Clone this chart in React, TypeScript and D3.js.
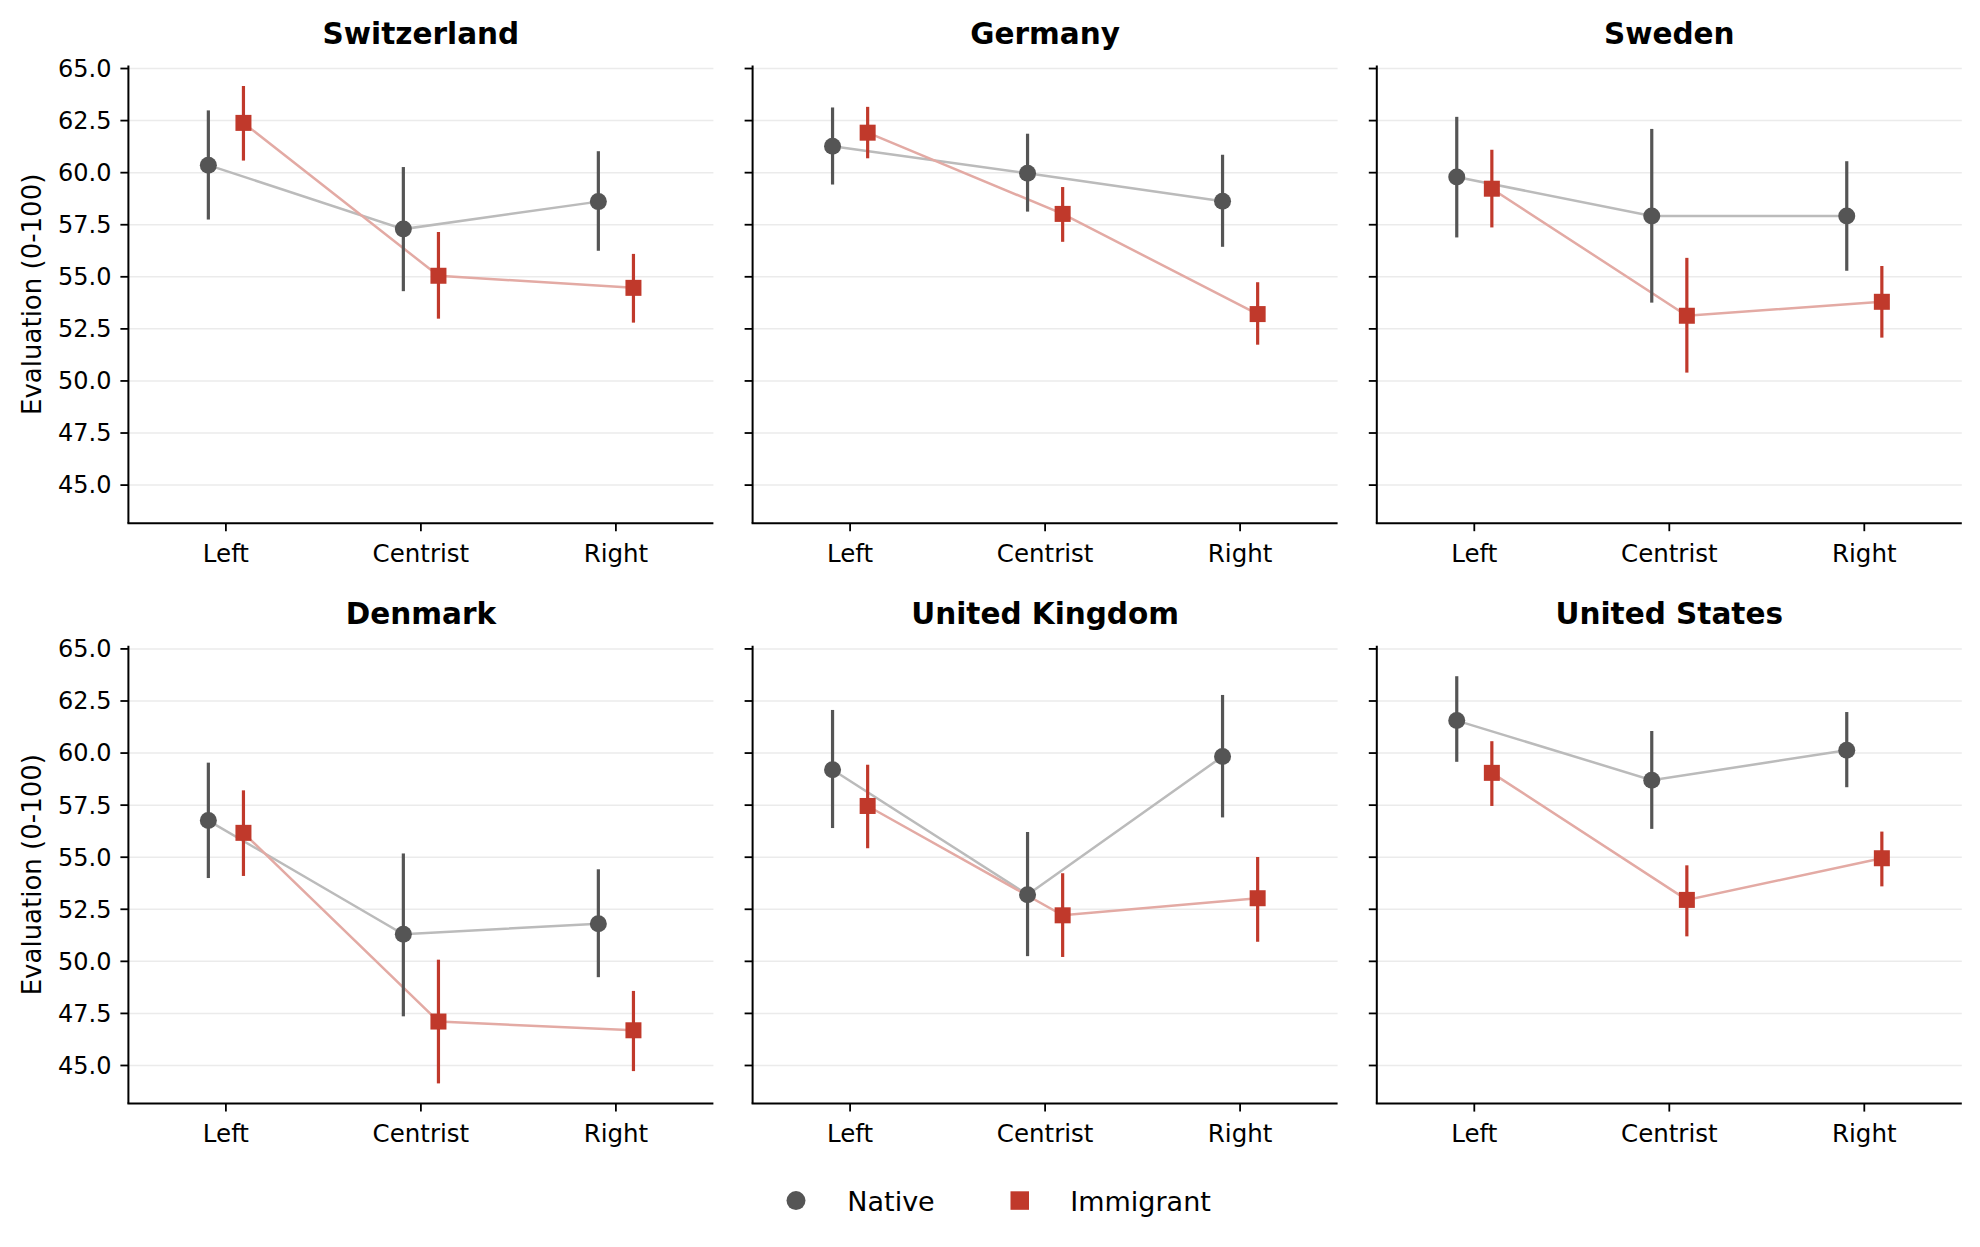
import React from "react";
import * as d3 from "d3";

// countries in panel order, ideology groups on the x axis
const countries = ["Switzerland", "Germany", "Sweden", "Denmark", "United Kingdom", "United States"];
const ideologies = ["Left", "Centrist", "Right"];

// mean evaluation and 95% CI, one row per country, Left / Centrist / Right
const nativeMean = [
    [60.36, 57.29, 58.61],
    [61.27, 59.97, 58.63],
    [59.79, 57.92, 57.92],
    [56.76, 51.3, 51.81],
    [59.2, 53.2, 59.84],
    [61.56, 58.7, 60.13],
];
const nativeLow = [
    [57.75, 54.31, 56.25],
    [59.43, 58.13, 56.44],
    [56.89, 53.76, 55.29],
    [54.0, 47.36, 49.24],
    [56.4, 50.25, 56.91],
    [59.58, 56.36, 58.36],
];
const nativeHigh = [
    [62.99, 60.27, 61.03],
    [63.13, 61.87, 60.86],
    [62.68, 62.1, 60.55],
    [59.54, 55.18, 54.42],
    [62.07, 56.21, 62.79],
    [63.69, 61.06, 61.97],
];
const immigrantMean = [
    [62.39, 55.05, 54.47],
    [61.92, 58.02, 53.21],
    [59.23, 53.13, 53.8],
    [56.17, 47.11, 46.69],
    [57.46, 52.21, 53.03],
    [59.05, 52.95, 54.95],
];
const immigrantLow = [
    [60.58, 52.99, 52.8],
    [60.69, 56.68, 51.74],
    [57.37, 50.4, 52.08],
    [54.1, 44.14, 44.73],
    [55.43, 50.21, 50.94],
    [57.46, 51.2, 53.6],
];
const immigrantHigh = [
    [64.16, 57.15, 56.1],
    [63.16, 59.31, 54.74],
    [61.1, 55.91, 55.52],
    [58.21, 50.08, 48.58],
    [59.44, 54.23, 55.01],
    [60.57, 54.61, 56.23],
];
const yTicks = [45, 47.5, 50, 52.5, 55, 57.5, 60, 62.5, 65];

const FONT = "DejaVu Sans, sans-serif";
const NATIVE = "#555555";
const NATIVE_LINE = "#bbbbbb";
const IMM = "#c0392b";
const IMM_LINE = "#e3aaa4";

const W = 1980;
const H = 1247;
const colLeft = [128.4, 752.6, 1376.8];
const rowTop = [65.4, 645.8];
const pw = 585;
const ph = 457.8;
const dodge = 0.09;

const x = d3.scaleLinear().domain([-0.5, 2.5]).range([0, pw]);
const y = d3.scaleLinear().domain([43.17, 65.15]).range([ph, 0]);
const fmt = d3.format(".1f");

const Panel: React.FC<{ idx: number }> = ({ idx }) => {
    const col = idx % 3;
    const row = Math.floor(idx / 3);
    const series = [
        { mean: nativeMean[idx], low: nativeLow[idx], high: nativeHigh[idx], off: -dodge, color: NATIVE, line: NATIVE_LINE, shape: "circle" },
        { mean: immigrantMean[idx], low: immigrantLow[idx], high: immigrantHigh[idx], off: dodge, color: IMM, line: IMM_LINE, shape: "square" },
    ];
    const line = d3.line<number>().x((_, i) => x(i + 0)).y(d => y(d));

    return (
        <g transform={`translate(${colLeft[col]},${rowTop[row]})`}>
            {/* grid */}
            {yTicks.map(t => (
                <line key={"g" + t} x1={0} x2={pw} y1={y(t)} y2={y(t)} stroke="#ebebeb" strokeWidth={1.5} />
            ))}
            {/* connecting lines */}
            {series.map((s, si) => (
                <path
                    key={"l" + si}
                    d={d3.line<number>().x((_, i) => x(i + s.off)).y(d => y(d))(s.mean) || ""}
                    fill="none"
                    stroke={s.line}
                    strokeWidth={2.5}
                />
            ))}
            {/* error bars */}
            {series.map((s, si) =>
                s.mean.map((_, i) => (
                    <line
                        key={"e" + si + i}
                        x1={x(i + s.off)}
                        x2={x(i + s.off)}
                        y1={y(s.low[i])}
                        y2={y(s.high[i])}
                        stroke={s.color}
                        strokeWidth={3.2}
                    />
                ))
            )}
            {/* markers */}
            {series.map((s, si) =>
                s.mean.map((m, i) =>
                    s.shape === "circle" ? (
                        <circle key={"m" + si + i} cx={x(i + s.off)} cy={y(m)} r={8.5} fill={s.color} />
                    ) : (
                        <rect key={"m" + si + i} x={x(i + s.off) - 8} y={y(m) - 8} width={16} height={16} fill={s.color} />
                    )
                )
            )}
            {/* spines */}
            <line x1={0} x2={0} y1={0} y2={ph} stroke="#000" strokeWidth={2} />
            <line x1={-1} x2={pw} y1={ph} y2={ph} stroke="#000" strokeWidth={2} />
            {/* y ticks */}
            {yTicks.map(t => (
                <g key={"t" + t} transform={`translate(0,${y(t)})`}>
                    <line x1={-8} x2={0} stroke="#000" strokeWidth={1.8} />
                    {col === 0 && (
                        <text x={-17} dy="0.35em" textAnchor="end" fontSize={24} fontFamily={FONT} fill="#000">
                            {fmt(t)}
                        </text>
                    )}
                </g>
            ))}
            {/* x ticks */}
            {ideologies.map((c, i) => (
                <g key={c} transform={`translate(${x(i)},${ph})`}>
                    <line y1={0} y2={8} stroke="#000" strokeWidth={1.8} />
                    <text y={38.5} textAnchor="middle" fontSize={24.5} fontFamily={FONT} fill="#000">
                        {c}
                    </text>
                </g>
            ))}
            <text x={pw / 2} y={-21.5} textAnchor="middle" fontSize={29.5} fontWeight="bold" fontFamily={FONT} fill="#000">
                {countries[idx]}
            </text>
            {col === 0 && (
                <text
                    transform={`translate(${41 - colLeft[0]},${ph / 2}) rotate(-90)`}
                    textAnchor="middle"
                    fontSize={26}
                    fontFamily={FONT}
                    fill="#000"
                >
                    Evaluation (0-100)
                </text>
            )}
        </g>
    );
};

export default function App() {
    return (
        <svg
            width={W}
            height={H}
            style={{ position: "absolute", left: 0, top: 0, background: "#fff" }}
        >
            <rect width={W} height={H} fill="#fff" />
            {countries.map((_, i) => (
                <Panel key={i} idx={i} />
            ))}
            {/* legend */}
            <circle cx={796} cy={1200.6} r={9.5} fill={NATIVE} />
            <text x={847.3} y={1210.5} fontSize={27} fontFamily={FONT} fill="#000">Native</text>
            <rect x={1010.5} y={1191.3} width={18.5} height={18.5} fill={IMM} />
            <text x={1070.3} y={1210.5} fontSize={27} fontFamily={FONT} fill="#000">Immigrant</text>
        </svg>
    );
}
